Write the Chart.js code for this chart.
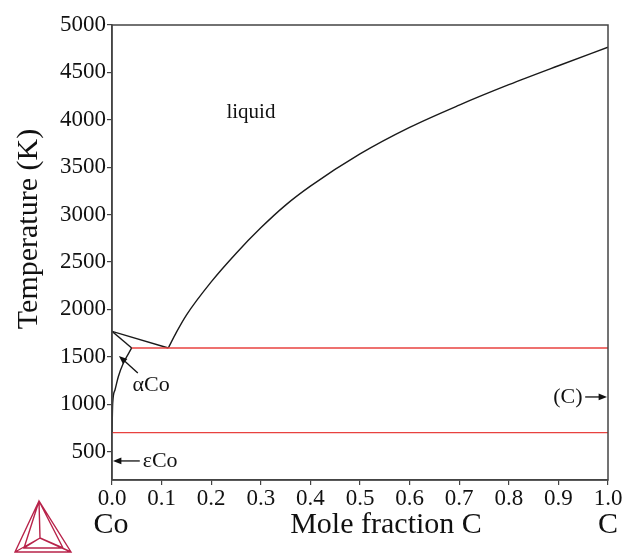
<!DOCTYPE html>
<html>
<head>
<meta charset="utf-8">
<script src="https://cdn.jsdelivr.net/npm/chart.js@4/dist/chart.umd.min.js"></script>
<style>
  html, body { margin: 0; padding: 0; background: #fff; }
  #wrap { width: 627px; height: 554px; }
</style>
</head>
<body>
<div id="wrap"><canvas id="phaseChart" width="627" height="554"></canvas></div>
<script>
// Co-C phase diagram, temperature vs mole fraction of carbon
const xTicks = [0.0, 0.1, 0.2, 0.3, 0.4, 0.5, 0.6, 0.7, 0.8, 0.9, 1.0];
const yTicks = [500, 1000, 1500, 2000, 2500, 3000, 3500, 4000, 4500, 5000];

// liquidus on the carbon-rich side, from the eutectic up to pure C
const liquidusC = [0.1135, 0.13, 0.15, 0.2, 0.25, 0.3, 0.35, 0.4, 0.5, 0.6, 0.7, 0.8, 0.9, 1.0];
const liquidusT = [1593, 1760, 1940, 2290, 2590, 2860, 3100, 3300, 3640, 3920, 4155, 4370, 4570, 4765];

// liquidus and solidus on the cobalt side
const coLiquidusC = [0.0, 0.1135];
const coLiquidusT = [1768, 1593];
const solidusC = [0.0, 0.0397];
const solidusT = [1768, 1593];

// carbon solubility in alpha Co
const solvusC = [0.0, 0.0014, 0.006, 0.0127, 0.0228, 0.0397];
const solvusT = [700, 1009, 1150, 1290, 1431, 1593];

// invariant lines
const eutecticC = [0.0397, 1.0];
const eutecticT = [1593, 1593];
const eutectoidC = [0.0, 1.0];
const eutectoidT = [700, 700];

const toPoints = (xs, ys) => xs.map((x, i) => ({ x: x, y: ys[i] }));

const serif = '"Liberation Serif", "Times New Roman", serif';

function curve(xs, ys, color, smooth) {
    return {
        data: toPoints(xs, ys),
        showLine: true,
        borderColor: color,
        borderWidth: 1.4,
        pointRadius: 0,
        cubicInterpolationMode: smooth ? 'monotone' : 'default',
        fill: false
    };
}

// region labels, positioned in data units
const labels = [
    { text: 'liquid', x: 0.28, y: 4072, size: 21 },
    { text: 'αCo', x: 0.079, y: 1203, size: 22 },
    { text: 'εCo', x: 0.097, y: 401, size: 22 },
    { text: '(C)', x: 0.919, y: 1076, size: 22 }
];
const arrows = [
    { from: [0.052, 1329], to: [0.014, 1508] },
    { from: [0.056, 401], to: [0.002, 401] },
    { from: [0.954, 1076], to: [0.998, 1076] }
];

function drawArrow(ctx, x1, y1, x2, y2) {
    const ang = Math.atan2(y2 - y1, x2 - x1);
    const head = 9;
    ctx.beginPath();
    ctx.moveTo(x1, y1);
    ctx.lineTo(x2 - Math.cos(ang) * head * 0.8, y2 - Math.sin(ang) * head * 0.8);
    ctx.stroke();
    ctx.beginPath();
    ctx.moveTo(x2, y2);
    ctx.lineTo(x2 - head * Math.cos(ang - 0.38), y2 - head * Math.sin(ang - 0.38));
    ctx.lineTo(x2 - head * Math.cos(ang + 0.38), y2 - head * Math.sin(ang + 0.38));
    ctx.closePath();
    ctx.fill();
}

const decorations = {
    id: 'decorations',
    afterDraw(chart) {
        const ctx = chart.ctx;
        const area = chart.chartArea;
        const xs = chart.scales.x;
        const ys = chart.scales.y;
        ctx.save();

        // closed frame around the plot
        ctx.strokeStyle = '#444';
        ctx.lineWidth = 1.5;
        ctx.strokeRect(area.left, area.top, area.right - area.left, area.bottom - area.top);

        // phase labels and arrows
        ctx.fillStyle = '#111';
        ctx.strokeStyle = '#111';
        ctx.lineWidth = 1.3;
        ctx.textAlign = 'center';
        ctx.textBaseline = 'middle';
        labels.forEach(l => {
            ctx.font = l.size + 'px ' + serif;
            ctx.fillText(l.text, xs.getPixelForValue(l.x), ys.getPixelForValue(l.y));
        });
        arrows.forEach(a => {
            drawArrow(ctx,
                xs.getPixelForValue(a.from[0]), ys.getPixelForValue(a.from[1]),
                xs.getPixelForValue(a.to[0]), ys.getPixelForValue(a.to[1]));
        });

        // axis titles and end-member names
        ctx.font = '30px ' + serif;
        ctx.fillText('Co', 111, 525);
        ctx.fillText('Mole fraction C', 386, 525);
        ctx.fillText('C', 608, 525);
        ctx.save();
        ctx.translate(29, 229);
        ctx.rotate(-Math.PI / 2);
        ctx.fillText('Temperature (K)', 0, 0);
        ctx.restore();

        // triangular logo, bottom left
        ctx.strokeStyle = '#b8234a';
        ctx.lineWidth = 1.4;
        ctx.lineJoin = 'miter';
        const A = [39, 501], B = [15, 552], C = [71, 552], O = [40, 538];
        const B2 = [24, 548], C2 = [63, 548];
        ctx.beginPath();
        ctx.moveTo(A[0], A[1]); ctx.lineTo(B[0], B[1]); ctx.lineTo(C[0], C[1]); ctx.closePath();
        ctx.moveTo(A[0], A[1]); ctx.lineTo(B2[0], B2[1]); ctx.lineTo(C2[0], C2[1]); ctx.closePath();
        ctx.moveTo(A[0], A[1]); ctx.lineTo(O[0], O[1]);
        ctx.moveTo(B[0], B[1]); ctx.lineTo(O[0], O[1]);
        ctx.moveTo(C[0], C[1]); ctx.lineTo(O[0], O[1]);
        ctx.moveTo(B2[0], B2[1]); ctx.lineTo(O[0], O[1]);
        ctx.moveTo(C2[0], C2[1]); ctx.lineTo(O[0], O[1]);
        ctx.stroke();

        ctx.restore();
    }
};

const black = '#1a1a1a';
const red = '#e8423f';

new Chart(document.getElementById('phaseChart'), {
    type: 'scatter',
    data: {
        datasets: [
            curve(eutectoidC, eutectoidT, red, false),
            curve(eutecticC, eutecticT, red, false),
            curve(liquidusC, liquidusT, black, true),
            curve(coLiquidusC, coLiquidusT, black, false),
            curve(solidusC, solidusT, black, false),
            curve(solvusC, solvusT, black, true)
        ]
    },
    options: {
        responsive: false,
        animation: false,
        layout: { padding: { left: 0, right: 19, top: 25, bottom: 0 } },
        plugins: {
            legend: { display: false },
            tooltip: { enabled: false }
        },
        scales: {
            x: {
                type: 'linear',
                min: 0,
                max: 1,
                afterBuildTicks: scale => { scale.ticks = xTicks.map(v => ({ value: v })); },
                afterFit: scale => { scale.height = 74; },
                ticks: {
                    autoSkip: false,
                    maxRotation: 0,
                    padding: 0,
                    color: '#111',
                    font: { family: serif, size: 23 },
                    callback: v => v.toFixed(1)
                },
                grid: { drawOnChartArea: false, tickLength: 5, color: '#444', lineWidth: 1.2 },
                border: { color: '#444', width: 1.5 }
            },
            y: {
                type: 'linear',
                min: 200,
                max: 5000,
                afterBuildTicks: scale => { scale.ticks = yTicks.map(v => ({ value: v })); },
                afterFit: scale => { scale.width = 112; },
                ticks: {
                    autoSkip: false,
                    padding: 1,
                    color: '#111',
                    font: { family: serif, size: 23 },
                    callback: v => String(v)
                },
                grid: { drawOnChartArea: false, tickLength: 5, color: '#444', lineWidth: 1.2 },
                border: { color: '#444', width: 1.5 }
            }
        }
    },
    plugins: [decorations]
});
</script>
</body>
</html>
